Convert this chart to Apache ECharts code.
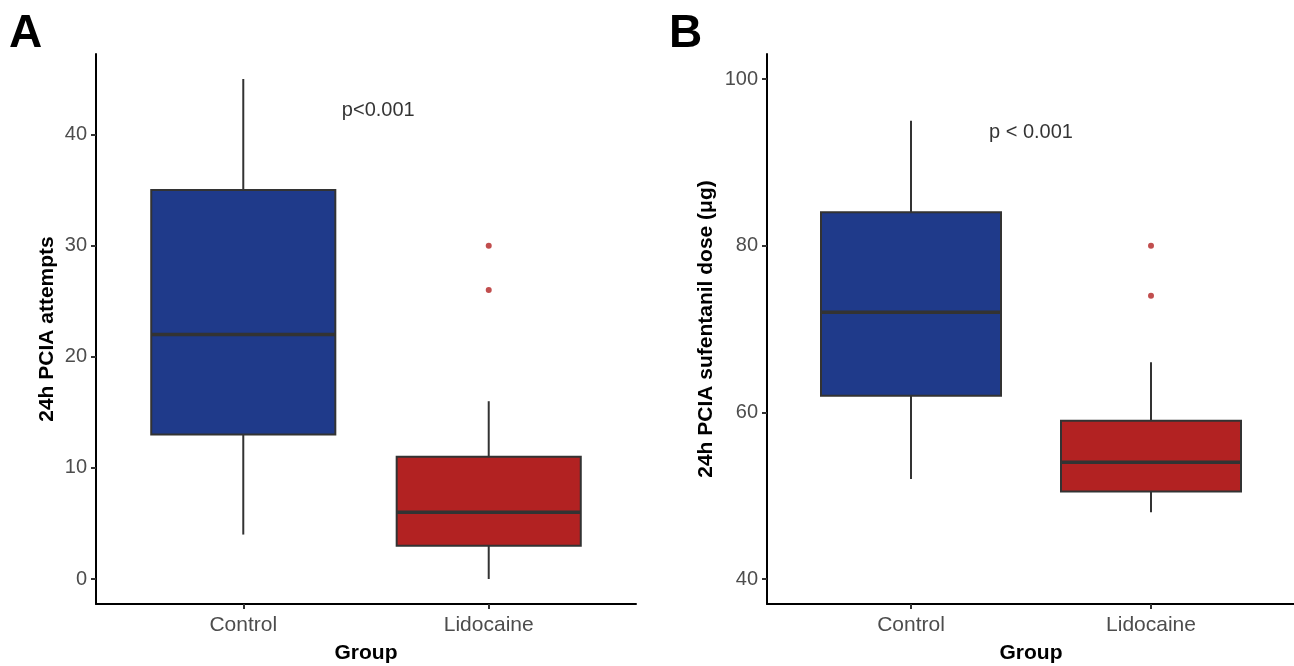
<!DOCTYPE html>
<html><head><meta charset="utf-8">
<script src="https://cdn.jsdelivr.net/npm/echarts@6/dist/echarts.min.js"></script>
<style>html,body{margin:0;padding:0;background:#fff}#c{width:1294px;height:666px}</style>
</head><body><div id="c"></div>
<script>
// ---- data ----
const categories = ['Control', 'Lidocaine'];
// [lower whisker, Q1, median, Q3, upper whisker]
const attemptsControl = [4, 13, 22, 35, 45];
const attemptsLidocaine = [0, 3, 6, 11, 16];
const attemptsOutliersLidocaine = [30, 26];
const doseControl = [52, 62, 72, 84, 95];
const doseLidocaine = [48, 50.5, 54, 59, 66];
const doseOutliersLidocaine = [80, 74];
const attemptsTicks = [0, 10, 20, 30, 40];
const doseTicks = [40, 60, 80, 100];
const categoryTicks = [1, 2];
const pTextA = 'p<0.001';
const pTextB = 'p < 0.001';
const yTitleA = '24h PCIA attempts';
const yTitleB = '24h PCIA sufentanil dose (μg)';
const xTitle = 'Group';

// ---- styles ----
const FONT = '"Liberation Sans", Arial, sans-serif';
const boxFills = ['#1F3A8A', '#B22222'];
const outlierColor = '#B22222';
const lineColor = '#333333';

function renderBox(params, api) {
  const x = api.value(0);
  const lo = api.coord([x, api.value(1)]);
  const q1 = api.coord([x, api.value(2)]);
  const md = api.coord([x, api.value(3)]);
  const q3 = api.coord([x, api.value(4)]);
  const hi = api.coord([x, api.value(5)]);
  const w = api.size([0.75, 0])[0];
  const cx = lo[0];
  const fill = boxFills[params.dataIndex];
  return {
    type: 'group',
    children: [
      { type: 'line', shape: { x1: cx, y1: hi[1], x2: cx, y2: q3[1] }, style: { stroke: lineColor, lineWidth: 2 } },
      { type: 'line', shape: { x1: cx, y1: q1[1], x2: cx, y2: lo[1] }, style: { stroke: lineColor, lineWidth: 2 } },
      { type: 'rect', shape: { x: cx - w / 2, y: q3[1], width: w, height: q1[1] - q3[1] }, style: { fill: fill, stroke: lineColor, lineWidth: 2 } },
      { type: 'line', shape: { x1: cx - w / 2, y1: md[1], x2: cx + w / 2, y2: md[1] }, style: { stroke: lineColor, lineWidth: 3.5 } }
    ]
  };
}

function xAxisCfg(gridIndex) {
  return {
    type: 'value', gridIndex: gridIndex, min: 0.4, max: 2.6,
    name: xTitle, nameLocation: 'middle', nameGap: 39,
    nameTextStyle: { fontFamily: FONT, fontSize: 21, fontWeight: 'bold', color: '#000' },
    axisLine: { show: true, onZero: false, lineStyle: { color: '#000', width: 2 } },
    axisTick: { show: true, customValues: categoryTicks, length: 5, lineStyle: { color: lineColor, width: 2 } },
    axisLabel: { customValues: categoryTicks, formatter: v => categories[Math.round(v) - 1] || '', fontFamily: FONT, fontSize: 21, color: '#4D4D4D', margin: 11 },
    splitLine: { show: false }
  };
}
function yAxisCfg(gridIndex, min, max, ticks, title, gap) {
  return {
    type: 'value', gridIndex: gridIndex, min: min, max: max,
    name: title, nameLocation: 'middle', nameGap: gap, nameRotate: 90,
    nameTextStyle: { fontFamily: FONT, fontSize: 21, fontWeight: 'bold', color: '#000' },
    axisLine: { show: true, onZero: false, lineStyle: { color: '#000', width: 2 } },
    axisTick: { show: true, customValues: ticks, length: 5, lineStyle: { color: lineColor, width: 2 } },
    axisLabel: { customValues: ticks, fontFamily: FONT, fontSize: 20, color: '#4D4D4D', margin: 9 },
    splitLine: { show: false }
  };
}

const chart = echarts.init(document.getElementById('c'), null, { renderer: 'canvas' });
chart.setOption({
  animation: false,
  backgroundColor: '#ffffff',
  grid: [
    { left: 96, top: 54, width: 540, height: 550, containLabel: false, outerBoundsMode: 'none' },
    { left: 767, top: 54, width: 528, height: 550, containLabel: false, outerBoundsMode: 'none' }
  ],
  xAxis: [xAxisCfg(0), xAxisCfg(1)],
  yAxis: [
    yAxisCfg(0, -2.25, 47.25, attemptsTicks, yTitleA, 38),
    yAxisCfg(1, 37, 103, doseTicks, yTitleB, 50)
  ],
  graphic: [
    { type: 'text', left: 9, top: 11, style: { text: 'A', font: 'bold 46px ' + FONT, fill: '#000' } },
    { type: 'text', left: 669, top: 11, style: { text: 'B', font: 'bold 46px ' + FONT, fill: '#000' } }
  ],
  series: [
    { type: 'custom', xAxisIndex: 0, yAxisIndex: 0, renderItem: renderBox, clip: false,
      data: [[1].concat(attemptsControl), [2].concat(attemptsLidocaine)] },
    { type: 'scatter', xAxisIndex: 0, yAxisIndex: 0, symbolSize: 6, itemStyle: { color: outlierColor },
      data: attemptsOutliersLidocaine.map(v => [2, v]) },
    { type: 'scatter', xAxisIndex: 0, yAxisIndex: 0, symbolSize: 1, itemStyle: { color: 'rgba(0,0,0,0)' },
      label: { show: true, position: 'inside', formatter: pTextA, fontFamily: FONT, fontSize: 20, color: '#000' },
      data: [[1.55, 42.2]] },
    { type: 'custom', xAxisIndex: 1, yAxisIndex: 1, renderItem: renderBox, clip: false,
      data: [[1].concat(doseControl), [2].concat(doseLidocaine)] },
    { type: 'scatter', xAxisIndex: 1, yAxisIndex: 1, symbolSize: 6, itemStyle: { color: outlierColor },
      data: doseOutliersLidocaine.map(v => [2, v]) },
    { type: 'scatter', xAxisIndex: 1, yAxisIndex: 1, symbolSize: 1, itemStyle: { color: 'rgba(0,0,0,0)' },
      label: { show: true, position: 'inside', formatter: pTextB, fontFamily: FONT, fontSize: 20, color: '#000' },
      data: [[1.5, 93.6]] }
  ]
});
</script></body></html>
